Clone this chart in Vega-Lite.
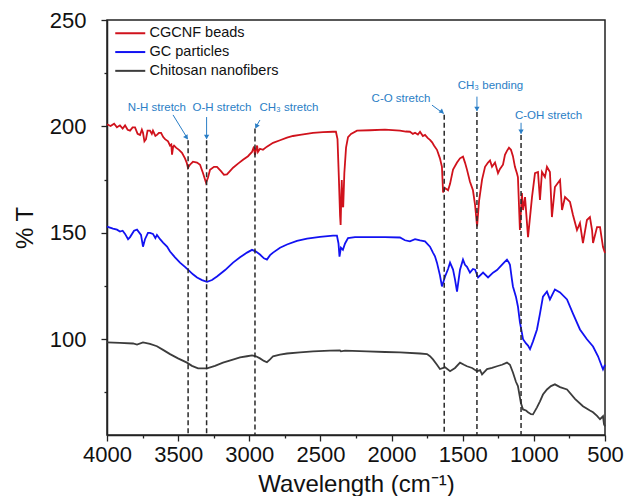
{
  "$schema": "https://vega.github.io/schema/vega-lite/v6.json",
  "width": 498,
  "height": 415,
  "autosize": {"type": "none"},
  "padding": {"left": 107, "top": 20, "right": 20, "bottom": 61},
  "background": "white",
  "config": {
    "font": "Liberation Sans",
    "view": {"stroke": "#222", "strokeWidth": 1.5},
    "axis": {"domainColor": "#222", "domainWidth": 1.5, "tickColor": "#222", "tickWidth": 1.3, "grid": false, "labelColor": "#111", "titleColor": "#111", "labelFont": "Liberation Sans", "titleFont": "Liberation Sans", "titleFontWeight": "normal"}
  },
  "datasets": {
    "red": [
      {"w":4000,"t":201},{"w":3975,"t":200.2},{"w":3950,"t":201.3},{"w":3930,"t":199.6},{"w":3909,"t":200.5},{"w":3890,"t":199},{"w":3873,"t":200.5},{"w":3855,"t":198.4},{"w":3838,"t":198},{"w":3820,"t":199.5},{"w":3803,"t":199.5},{"w":3785,"t":196.5},{"w":3768,"t":196},{"w":3755,"t":198.5},{"w":3747,"t":197},{"w":3737,"t":193},{"w":3726,"t":194},{"w":3715,"t":198},{"w":3698,"t":198},{"w":3685,"t":196.5},{"w":3677,"t":198},{"w":3660,"t":195.5},{"w":3649,"t":196},{"w":3635,"t":197},{"w":3620,"t":197},{"w":3605,"t":195},{"w":3592,"t":194},{"w":3571,"t":193},{"w":3557,"t":191},{"w":3548,"t":191.5},{"w":3543,"t":186.7},{"w":3535,"t":190.5},{"w":3529,"t":191},{"w":3515,"t":190},{"w":3494,"t":189},{"w":3473,"t":187.6},{"w":3452,"t":185},{"w":3440,"t":183},{"w":3431,"t":180.6},{"w":3417,"t":182},{"w":3396,"t":183.4},{"w":3367,"t":183},{"w":3346,"t":182},{"w":3325,"t":178},{"w":3304,"t":173.5},{"w":3290,"t":176},{"w":3276,"t":179.6},{"w":3248,"t":181},{"w":3227,"t":181},{"w":3199,"t":179},{"w":3178,"t":177.3},{"w":3157,"t":177.5},{"w":3136,"t":179},{"w":3114,"t":180.6},{"w":3079,"t":182.5},{"w":3044,"t":184.3},{"w":3009,"t":186},{"w":2981,"t":188},{"w":2967,"t":190.5},{"w":2960,"t":186.5},{"w":2953,"t":189},{"w":2945,"t":191},{"w":2939,"t":188},{"w":2925,"t":189.5},{"w":2904,"t":189},{"w":2876,"t":190.5},{"w":2833,"t":192.3},{"w":2784,"t":193.5},{"w":2735,"t":194.7},{"w":2693,"t":195.5},{"w":2644,"t":196},{"w":2552,"t":197},{"w":2482,"t":197.3},{"w":2412,"t":197.5},{"w":2391,"t":197.5},{"w":2380,"t":194},{"w":2370,"t":175},{"w":2362,"t":158},{"w":2358,"t":153.7},{"w":2353,"t":168},{"w":2350,"t":174.8},{"w":2345,"t":163},{"w":2340,"t":162},{"w":2332,"t":178},{"w":2320,"t":190},{"w":2306,"t":195},{"w":2285,"t":196.5},{"w":2243,"t":198},{"w":2152,"t":198.2},{"w":2046,"t":198.5},{"w":1941,"t":198},{"w":1900,"t":197.6},{"w":1871,"t":197.5},{"w":1850,"t":196.5},{"w":1835,"t":197},{"w":1815,"t":196.2},{"w":1800,"t":197.5},{"w":1780,"t":195.5},{"w":1765,"t":196},{"w":1745,"t":194.5},{"w":1730,"t":193.7},{"w":1715,"t":192.5},{"w":1702,"t":191},{"w":1681,"t":189},{"w":1660,"t":185},{"w":1646,"t":181},{"w":1638,"t":169},{"w":1624,"t":171},{"w":1603,"t":170},{"w":1589,"t":173},{"w":1568,"t":179.7},{"w":1540,"t":183},{"w":1519,"t":185},{"w":1498,"t":185.8},{"w":1484,"t":183},{"w":1470,"t":179.7},{"w":1449,"t":174},{"w":1428,"t":170},{"w":1413,"t":163},{"w":1399,"t":153},{"w":1385,"t":165},{"w":1364,"t":175},{"w":1343,"t":181},{"w":1322,"t":183},{"w":1308,"t":184},{"w":1294,"t":181},{"w":1273,"t":183},{"w":1252,"t":178},{"w":1238,"t":180},{"w":1217,"t":182},{"w":1203,"t":186.7},{"w":1189,"t":188.5},{"w":1175,"t":190},{"w":1161,"t":189},{"w":1147,"t":186},{"w":1133,"t":181},{"w":1119,"t":178},{"w":1112,"t":176.2},{"w":1098,"t":151.3},{"w":1084,"t":168.7},{"w":1076,"t":160.7},{"w":1062,"t":166.8},{"w":1041,"t":148},{"w":1013,"t":166.8},{"w":992,"t":178},{"w":971,"t":178.6},{"w":957,"t":165.4},{"w":943,"t":178.6},{"w":922,"t":176.2},{"w":908,"t":181},{"w":887,"t":178.6},{"w":873,"t":157.4},{"w":852,"t":171.5},{"w":816,"t":174.8},{"w":802,"t":160.7},{"w":781,"t":166.8},{"w":746,"t":164.5},{"w":725,"t":158.4},{"w":697,"t":151.3},{"w":676,"t":154.6},{"w":655,"t":145.2},{"w":627,"t":156},{"w":606,"t":157.4},{"w":591,"t":151.3},{"w":584,"t":145.2},{"w":556,"t":152.7},{"w":535,"t":152.7},{"w":514,"t":143.3},{"w":500,"t":140.5}
    ],
    "blue": [
      {"w":4000,"t":152.9},{"w":3958,"t":152},{"w":3930,"t":151.5},{"w":3909,"t":150.6},{"w":3890,"t":151},{"w":3873,"t":149.5},{"w":3852,"t":147},{"w":3838,"t":148},{"w":3810,"t":151},{"w":3789,"t":151.5},{"w":3761,"t":149},{"w":3747,"t":143.5},{"w":3733,"t":147},{"w":3712,"t":150},{"w":3698,"t":150},{"w":3677,"t":149.5},{"w":3660,"t":147.5},{"w":3649,"t":149},{"w":3627,"t":147},{"w":3606,"t":145.4},{"w":3578,"t":143.5},{"w":3557,"t":141.2},{"w":3522,"t":138.5},{"w":3487,"t":136},{"w":3452,"t":134},{"w":3431,"t":132.7},{"w":3396,"t":130.5},{"w":3367,"t":129},{"w":3332,"t":127.8},{"w":3297,"t":127},{"w":3262,"t":127.8},{"w":3227,"t":129.5},{"w":3170,"t":132.5},{"w":3114,"t":136},{"w":3065,"t":138.5},{"w":3016,"t":140.7},{"w":2981,"t":142},{"w":2953,"t":141.2},{"w":2925,"t":139.8},{"w":2897,"t":138},{"w":2876,"t":137.4},{"w":2854,"t":139.5},{"w":2833,"t":140.7},{"w":2784,"t":143},{"w":2735,"t":144.5},{"w":2665,"t":146.2},{"w":2594,"t":147.3},{"w":2503,"t":148.1},{"w":2412,"t":148.7},{"w":2384,"t":148.7},{"w":2373,"t":145},{"w":2366,"t":138.8},{"w":2356,"t":143},{"w":2342,"t":142},{"w":2327,"t":145},{"w":2306,"t":147.5},{"w":2257,"t":148},{"w":2173,"t":148},{"w":2046,"t":148},{"w":1941,"t":147.8},{"w":1906,"t":146.5},{"w":1871,"t":146},{"w":1835,"t":147},{"w":1800,"t":146.4},{"w":1765,"t":146},{"w":1730,"t":143.5},{"w":1709,"t":140.7},{"w":1695,"t":139},{"w":1681,"t":136},{"w":1660,"t":130},{"w":1646,"t":124.8},{"w":1624,"t":129.5},{"w":1603,"t":133},{"w":1589,"t":136},{"w":1568,"t":132.7},{"w":1554,"t":128},{"w":1540,"t":122.4},{"w":1519,"t":132.7},{"w":1498,"t":137.4},{"w":1484,"t":135},{"w":1470,"t":134},{"w":1449,"t":131.3},{"w":1428,"t":133},{"w":1413,"t":132.7},{"w":1392,"t":129},{"w":1357,"t":131.3},{"w":1322,"t":129},{"w":1287,"t":131.3},{"w":1259,"t":132.5},{"w":1238,"t":134},{"w":1210,"t":136},{"w":1189,"t":137.4},{"w":1175,"t":136},{"w":1168,"t":135},{"w":1154,"t":128},{"w":1147,"t":124.8},{"w":1126,"t":120},{"w":1112,"t":115.4},{"w":1098,"t":108},{"w":1076,"t":100},{"w":1055,"t":98},{"w":1041,"t":97},{"w":1027,"t":95.3},{"w":1006,"t":99},{"w":978,"t":104.6},{"w":957,"t":112},{"w":936,"t":120},{"w":908,"t":122.4},{"w":887,"t":118.7},{"w":852,"t":123.4},{"w":816,"t":122},{"w":767,"t":118.7},{"w":725,"t":112},{"w":676,"t":104.6},{"w":627,"t":100},{"w":584,"t":96.6},{"w":549,"t":92},{"w":514,"t":85.8},{"w":500,"t":88}
    ],
    "gray": [
      {"w":4000,"t":98.5},{"w":3909,"t":98.3},{"w":3817,"t":98},{"w":3789,"t":97.5},{"w":3747,"t":98.5},{"w":3698,"t":97.8},{"w":3649,"t":96.7},{"w":3606,"t":95},{"w":3557,"t":93},{"w":3501,"t":91},{"w":3438,"t":89},{"w":3403,"t":87.5},{"w":3360,"t":86.3},{"w":3297,"t":86.3},{"w":3241,"t":87.5},{"w":3185,"t":89},{"w":3121,"t":90.3},{"w":3065,"t":91.5},{"w":3016,"t":92},{"w":2981,"t":92.4},{"w":2953,"t":92},{"w":2925,"t":91},{"w":2897,"t":89.8},{"w":2876,"t":89.2},{"w":2854,"t":90.5},{"w":2833,"t":92},{"w":2784,"t":92.8},{"w":2735,"t":93.3},{"w":2644,"t":93.8},{"w":2552,"t":94.3},{"w":2433,"t":94.6},{"w":2363,"t":94.8},{"w":2356,"t":94.3},{"w":2327,"t":94.6},{"w":2173,"t":94.3},{"w":2046,"t":94},{"w":1941,"t":93.8},{"w":1800,"t":93.3},{"w":1751,"t":93},{"w":1730,"t":92},{"w":1709,"t":90.5},{"w":1681,"t":88},{"w":1660,"t":86},{"w":1624,"t":86.8},{"w":1589,"t":85},{"w":1554,"t":86.5},{"w":1519,"t":89},{"w":1491,"t":88},{"w":1470,"t":87.3},{"w":1434,"t":86.5},{"w":1399,"t":85},{"w":1378,"t":85.5},{"w":1364,"t":83.5},{"w":1329,"t":86},{"w":1294,"t":86.5},{"w":1259,"t":87.3},{"w":1224,"t":88},{"w":1189,"t":89},{"w":1168,"t":88},{"w":1147,"t":84.4},{"w":1126,"t":80},{"w":1112,"t":78},{"w":1091,"t":70},{"w":1076,"t":67},{"w":1055,"t":66.5},{"w":1041,"t":65.7},{"w":1020,"t":64.8},{"w":1006,"t":64.7},{"w":978,"t":68},{"w":957,"t":70.8},{"w":936,"t":74},{"w":908,"t":76.4},{"w":880,"t":78},{"w":852,"t":78.8},{"w":816,"t":77.5},{"w":767,"t":76.4},{"w":711,"t":72},{"w":655,"t":68.5},{"w":606,"t":66.5},{"w":584,"t":65.7},{"w":556,"t":64},{"w":535,"t":62.4},{"w":514,"t":63.8},{"w":507,"t":60},{"w":500,"t":59}
    ],
    "dashes": [
      {"w":3430,"t":193.5},{"w":3300,"t":193.5},{"w":2960,"t":199},{"w":1630,"t":205.5},{"w":1400,"t":206.8},{"w":1090,"t":196}
    ],
    "arrows": [
      {"w":3536,"t":205.4,"w2":3433,"t2":194.2},
      {"w":3300,"t":204.4,"w2":3300,"t2":194.2},
      {"w":2925,"t":203,"w2":2956,"t2":199.5},
      {"w":1716,"t":210,"w2":1634,"t2":206},
      {"w":1400,"t":214,"w2":1400,"t2":207.3},
      {"w":1090,"t":201.7,"w2":1090,"t2":196.6}
    ],
    "heads": [
      {"w":3441,"t":194.8,"a":-31},
      {"w":3300,"t":195,"a":0},
      {"w":2950,"t":200,"a":24},
      {"w":1645,"t":206.8,"a":-51},
      {"w":1400,"t":208.2,"a":0},
      {"w":1090,"t":197.5,"a":0}
    ],
    "labels": [
      {"w":3649,"t":208.5,"lab":"N-H stretch"},
      {"w":3192,"t":208.5,"lab":"O-H stretch"},
      {"w":2721,"t":208.5,"lab":"CH₃ stretch"},
      {"w":1934,"t":212.7,"lab":"C-O stretch"},
      {"w":1305,"t":219,"lab":"CH₃ bending"},
      {"w":897,"t":204.9,"lab":"C-OH stretch"}
    ]
  },
  "encoding": {
    "x": {
      "field": "w", "type": "quantitative",
      "scale": {"domain": [500, 4000], "reverse": true, "nice": false, "zero": false},
      "axis": {
        "title": "Wavelength (cm⁻¹)", "titleFontSize": 24, "titlePadding": 7,
        "values": [500,750,1000,1250,1500,1750,2000,2250,2500,2750,3000,3250,3500,3750,4000],
        "format": "d",
        "labelExpr": "datum.value % 500 === 0 ? datum.label : ''",
        "tickSize": {"condition": {"test": "datum.value % 500 === 0", "value": 6}, "value": 3},
        "labelFontSize": 22, "labelPadding": 3, "labelFlush": false, "labelOverlap": false, "labelBound": false
      }
    },
    "y": {
      "field": "t", "type": "quantitative",
      "scale": {"domain": [55, 250], "nice": false, "zero": false},
      "axis": {
        "title": "% T", "titleFontSize": 24, "titlePadding": 12,
        "values": [75,100,125,150,175,200,225,250],
        "format": "d",
        "labelExpr": "datum.value % 50 === 0 ? datum.label : ''",
        "tickSize": {"condition": {"test": "datum.value % 50 === 0", "value": 6}, "value": 3},
        "labelFontSize": 22, "labelPadding": 15, "labelOverlap": false, "labelBound": false
      }
    }
  },
  "layer": [
    {
      "data": {"name": "gray"},
      "mark": {"type": "line", "strokeWidth": 1.8},
      "encoding": {
        "color": {
          "datum": "Chitosan nanofibers",
          "scale": {"domain": ["CGCNF beads", "GC particles", "Chitosan nanofibers"], "range": ["#d0121c", "#1212f2", "#3c3c3c"]},
          "legend": {
            "title": null, "orient": "none", "legendX": 16, "legendY": 6, "padding": 0,
            "symbolType": "M-3,0H3", "symbolSize": 100, "symbolStrokeWidth": 2,
            "labelFontSize": 14.5, "labelOffset": 12, "rowPadding": 3.8, "labelColor": "#111", "labelFont": "Liberation Sans"
          }
        }
      }
    },
    {
      "data": {"name": "blue"},
      "mark": {"type": "line", "strokeWidth": 1.8},
      "encoding": {"color": {"datum": "GC particles"}}
    },
    {
      "data": {"name": "red"},
      "mark": {"type": "line", "strokeWidth": 1.8},
      "encoding": {"color": {"datum": "CGCNF beads"}}
    },
    {
      "data": {"name": "dashes"},
      "mark": {"type": "rule", "color": "#2a2a2a", "strokeWidth": 1.5, "strokeDash": [5, 3]},
      "encoding": {"y2": {"datum": 55}}
    },
    {
      "data": {"name": "arrows"},
      "mark": {"type": "rule", "color": "#2a7ec6", "strokeWidth": 1},
      "encoding": {"x2": {"field": "w2"}, "y2": {"field": "t2"}}
    },
    {
      "data": {"name": "heads"},
      "mark": {"type": "point", "shape": "triangle-down", "filled": true, "color": "#2a7ec6", "size": 28, "opacity": 1},
      "encoding": {"angle": {"field": "a", "type": "quantitative", "scale": null}}
    },
    {
      "data": {"name": "labels"},
      "mark": {"type": "text", "color": "#2a7ec6", "fontSize": 11.5, "font": "Liberation Sans", "align": "center", "baseline": "middle"},
      "encoding": {"text": {"field": "lab"}}
    }
  ]
}
